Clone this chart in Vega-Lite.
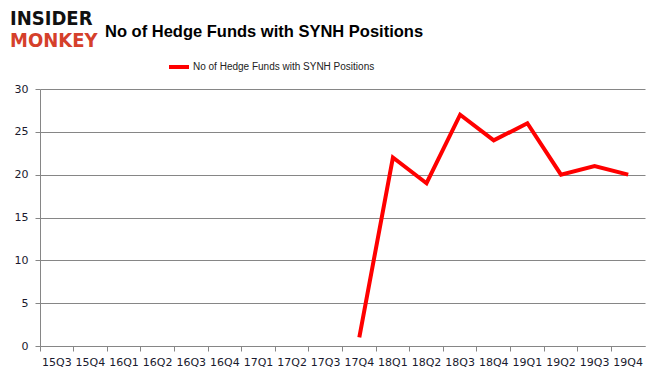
{
  "$schema": "https://vega.github.io/schema/vega-lite/v6.json",
  "width": 605,
  "height": 257,
  "autosize": "none",
  "padding": {"left": 40, "top": 89, "right": 20, "bottom": 45},
  "background": "white",
  "config": {"view": {"stroke": null}, "font": "DejaVu Sans"},
  "title": {
    "text": "No of Hedge Funds with SYNH Positions",
    "anchor": "start",
    "frame": "group",
    "dx": 65,
    "offset": -44,
    "baseline": "alphabetic",
    "font": "Liberation Sans",
    "fontSize": 16.5,
    "fontWeight": "bold",
    "color": "#000000"
  },
  "data": {
    "values": [
      {"quarter": "15Q3", "funds": null},
      {"quarter": "15Q4", "funds": null},
      {"quarter": "16Q1", "funds": null},
      {"quarter": "16Q2", "funds": null},
      {"quarter": "16Q3", "funds": null},
      {"quarter": "16Q4", "funds": null},
      {"quarter": "17Q1", "funds": null},
      {"quarter": "17Q2", "funds": null},
      {"quarter": "17Q3", "funds": null},
      {"quarter": "17Q4", "funds": 1},
      {"quarter": "18Q1", "funds": 22},
      {"quarter": "18Q2", "funds": 19},
      {"quarter": "18Q3", "funds": 27},
      {"quarter": "18Q4", "funds": 24},
      {"quarter": "19Q1", "funds": 26},
      {"quarter": "19Q2", "funds": 20},
      {"quarter": "19Q3", "funds": 21},
      {"quarter": "19Q4", "funds": 20}
    ]
  },
  "resolve": {"axis": {"x": "independent"}},
  "layer": [
    {
      "mark": {"type": "point", "opacity": 0},
      "encoding": {
        "x": {
          "field": "quarter",
          "type": "ordinal",
          "sort": null,
          "scale": {"type": "band", "paddingInner": 0, "paddingOuter": 0,
            "domain": ["15Q3","15Q4","16Q1","16Q2","16Q3","16Q4","17Q1","17Q2","17Q3","17Q4","18Q1","18Q2","18Q3","18Q4","19Q1","19Q2","19Q3","19Q4"]},
          "axis": {
            "orient": "bottom",
            "title": null,
            "bandPosition": 0,
            "labels": false,
            "ticks": true,
            "tickSize": 5,
            "tickColor": "#868686",
            "domain": true,
            "domainColor": "#868686",
            "grid": false
          }
        },
        "y": {
          "field": "funds",
          "type": "quantitative",
          "scale": {"domain": [0, 30]},
          "axis": {
            "orient": "left",
            "title": null,
            "values": [0, 5, 10, 15, 20, 25, 30],
            "grid": true,
            "gridColor": "#868686",
            "gridWidth": 1,
            "domainColor": "#868686",
            "tickColor": "#868686",
            "tickSize": 5,
            "labelFont": "DejaVu Sans",
            "labelFontSize": 11,
            "labelColor": "#1a1a2e",
            "labelPadding": 7
          }
        }
      }
    },
    {
      "mark": {"type": "line", "color": "#ff0000", "strokeWidth": 4, "strokeJoin": "miter"},
      "encoding": {
        "x": {
          "field": "quarter",
          "type": "ordinal",
          "sort": null,
          "bandPosition": 0.5,
          "axis": {
            "orient": "bottom",
            "title": null,
            "ticks": false,
            "domain": false,
            "grid": false,
            "labelAngle": 0,
            "labelFont": "DejaVu Sans",
            "labelFontSize": 11,
            "labelColor": "#1a1a2e",
            "labelPadding": 10
          }
        },
        "y": {
          "field": "funds",
          "type": "quantitative",
          "scale": {"domain": [0, 30]},
          "axis": {
            "orient": "left",
            "title": null,
            "values": [0, 5, 10, 15, 20, 25, 30],
            "grid": true,
            "gridColor": "#868686",
            "gridWidth": 1,
            "domainColor": "#868686",
            "tickColor": "#868686",
            "tickSize": 5,
            "labelFont": "DejaVu Sans",
            "labelFontSize": 11,
            "labelColor": "#1a1a2e",
            "labelPadding": 7
          }
        },
        "color": {
          "datum": "No of Hedge Funds with SYNH Positions",
          "scale": {"range": ["#ff0000"]},
          "legend": {
            "title": null,
            "orient": "none",
            "legendX": 127,
            "legendY": -34,
            "symbolType": "stroke",
            "symbolSize": 400,
            "symbolStrokeWidth": 4,
            "labelFont": "Liberation Sans",
            "labelFontSize": 10,
            "labelColor": "#222222",
            "labelOffset": 2,
            "labelLimit": 0
          }
        }
      }
    },
    {
      "data": {"values": [{"word": "INSIDER"}]},
      "mark": {"type": "text", "align": "left", "baseline": "alphabetic", "font": "DejaVu Sans Condensed, DejaVu Sans", "fontWeight": "bold", "fontSize": 20, "color": "#111111"},
      "encoding": {
        "text": {"field": "word"},
        "x": {"value": -30},
        "y": {"value": -64}
      }
    },
    {
      "data": {"values": [{"word": "MONKEY"}]},
      "mark": {"type": "text", "align": "left", "baseline": "alphabetic", "font": "DejaVu Sans Condensed, DejaVu Sans", "fontWeight": "bold", "fontSize": 20, "color": "#d5402b"},
      "encoding": {
        "text": {"field": "word"},
        "x": {"value": -30},
        "y": {"value": -42}
      }
    }
  ]
}
